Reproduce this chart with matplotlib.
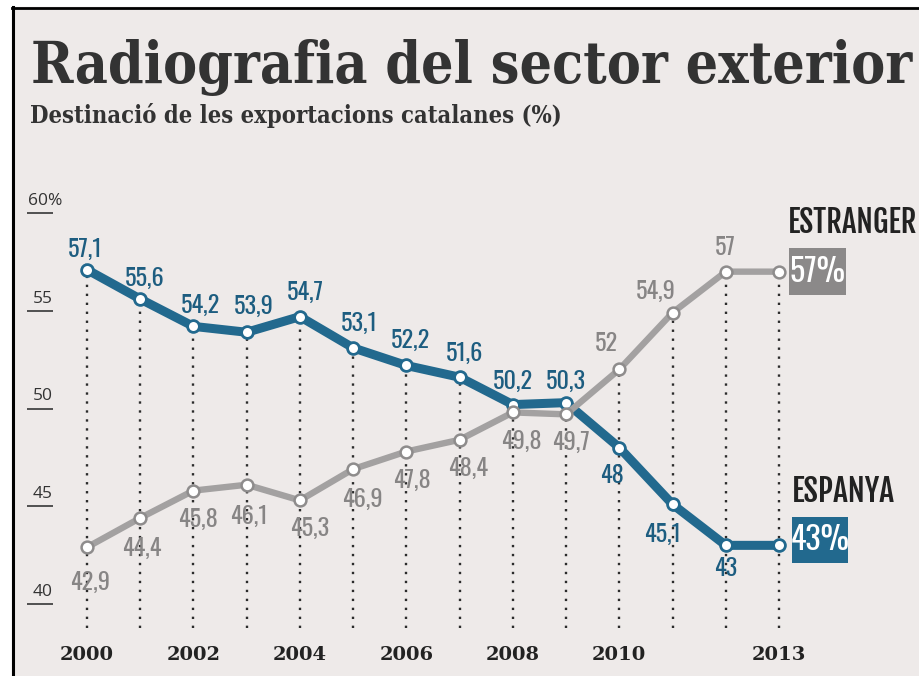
import matplotlib
matplotlib.use("Agg")
import matplotlib.pyplot as plt
from matplotlib.patches import Rectangle
from matplotlib.lines import Line2D
from matplotlib.transforms import ScaledTranslation

# --- data -----------------------------------------------------------------
years = [2000, 2001, 2002, 2003, 2004, 2005, 2006, 2007, 2008, 2009, 2010, 2011, 2012, 2013]
espanya = [57.1, 55.6, 54.2, 53.9, 54.7, 53.1, 52.2, 51.6, 50.2, 50.3, 48.0, 45.1, 43.0, 43.0]
estranger = [42.9, 44.4, 45.8, 46.1, 45.3, 46.9, 47.8, 48.4, 49.8, 49.7, 52.0, 54.9, 57.0, 57.0]
y_ticks = [40, 45, 50, 55, 60]
y_tick_labels = ["40", "45", "50", "55", "60%"]
x_tick_years = [2000, 2002, 2004, 2006, 2008, 2010, 2013]

TITLE = "Radiografia del sector exterior"
SUBTITLE = "Destinació de les exportacions catalanes (%)"

# --- style ------------------------------------------------------------------
W, H = 920, 676
BG = "#eeeae9"
BLUE = "#22698e"
BLUE_TXT = "#1d5d80"
GREY = "#a3a1a1"
GREY_TXT = "#878585"
INK = "#2b2b2b"
SERIF = ["DejaVu Serif"]
COND = ["Oswald", "DejaVu Sans"]
COND_BOLD = ["Fjalla One", "Oswald", "DejaVu Sans"]

# pixel anchors of the plotting scale
X0_PX, X_STEP = 87.0, 53.23      # year 2000 and px per year
Y60_PX, Y_UNIT = 213.0, 19.55    # value 60 (px from top) and px per unit

# label offsets in pixels (dx, dy up) relative to each point
esp_off = [(-2, 20), (5, 21), (7, 21), (7, 26), (5, 24), (6, 25), (4, 25), (5, 24),
           (0, 23), (0, 21), (-7, -28), (-10, -30), (0, -23), None]
est_off = [(3, -35), (2, -30), (5, -29), (2, -32), (10, -28), (9, -30), (6, -29), (8, -29),
           (9, -29), (5, -28), (-13, 26), (-17, 21), (0, 24), None]


def fx(px):
    return px / W


def fy(py):
    return 1 - py / H


def fmt(v):
    return f"{v:g}".replace(".", ",")


fig = plt.figure(figsize=(W / 100, H / 100), dpi=100, facecolor="white")
fig.add_artist(Rectangle((fx(12), 0), 1, fy(7), transform=fig.transFigure, color=BG, zorder=-5))
fig.add_artist(Line2D([fx(13.5), fx(13.5)], [0, fy(7)], transform=fig.transFigure, color="black", lw=2.2))
fig.add_artist(Line2D([fx(12.5), 1], [fy(8), fy(8)], transform=fig.transFigure, color="black", lw=2.0))

ax = fig.add_axes([0, 0, 1, 1])
ax.set_xlim(2000 - X0_PX / X_STEP, 2000 + (W - X0_PX) / X_STEP)
ax.set_ylim(60 - (H - Y60_PX) / Y_UNIT, 60 + Y60_PX / Y_UNIT)
ax.axis("off")
ax.patch.set_visible(False)

# dotted drop lines
bottom = 60 - (628 - Y60_PX) / Y_UNIT
tops = [max(a, b) for a, b in zip(espanya, estranger)]
ax.vlines(years, bottom, tops, colors=INK, linestyles=(0, (1, 2.8)), lw=1.7, zorder=1)

# series
ax.plot(years, espanya, color=BLUE, lw=6.5, solid_joinstyle="round", zorder=3,
        marker="o", ms=8.5, mfc="white", mec=BLUE, mew=2.0)
ax.plot(years, estranger, color=GREY, lw=4.6, solid_joinstyle="round", zorder=4,
        marker="o", ms=8.5, mfc="white", mec="#8e8c8c", mew=1.8)

for yr, v, off in zip(years, espanya, esp_off):
    if off:
        ax.annotate(fmt(v), (yr, v), xytext=off, textcoords="offset pixels", ha="center", va="center",
                    color=BLUE_TXT, fontsize=17.5, family=COND, zorder=6)
for yr, v, off in zip(years, estranger, est_off):
    if off:
        ax.annotate(fmt(v), (yr, v), xytext=off, textcoords="offset pixels", ha="center", va="center",
                    color=GREY_TXT, fontsize=17.5, family=COND, fontweight="light", zorder=6)


# end-of-line boxes (pixel sized) and names
def end_box(value, colour, x_px, dy_px, w_px, h_px):
    trans = fig.dpi_scale_trans + ScaledTranslation(years[-1], value, ax.transData)
    ax.add_artist(Rectangle((x_px / 100, (dy_px - h_px / 2) / 100), w_px / 100, h_px / 100, transform=trans,
                            fc=colour, ec="none", zorder=5))
    ax.annotate(f"{value:g}%", (years[-1], value), xytext=(x_px + w_px / 2, dy_px), textcoords="offset pixels",
                ha="center", va="center", color="white", fontsize=23, family=COND, zorder=6)


end_box(estranger[-1], "#8b8989", 10, 0, 57, 47)
end_box(espanya[-1], BLUE, 13, 5, 56, 46)

renderer = fig.canvas.get_renderer()
for name, value, dx, dy, x_end in [("ESTRANGER", estranger[-1], 9, 49, 917), ("ESPANYA", espanya[-1], 13, 53, 895)]:
    t = ax.annotate(name, (years[-1], value), xytext=(dx, dy), textcoords="offset pixels",
                    ha="left", va="center", color="#222222", fontsize=24, family=COND_BOLD)
    bb = t.get_window_extent(renderer)
    t.set_fontsize(24 * (x_end - bb.x0) / bb.width)

# y ticks: label sitting on a short underline
u0, u1 = 2000 - (X0_PX - 27) / X_STEP, 2000 - (X0_PX - 53) / X_STEP
ax.hlines(y_ticks, u0, u1, colors="#444444", lw=1.3)
for t, lab in zip(y_ticks, y_tick_labels):
    if lab.endswith("%"):
        ax.annotate(lab, (u0, t), xytext=(1, 12), textcoords="offset pixels", ha="left", va="center",
                    fontsize=12.5, color="#333333", family=["Open Sans", "DejaVu Sans"])
    else:
        ax.annotate(lab, (u1, t), xytext=(0, 12), textcoords="offset pixels", ha="right", va="center",
                    fontsize=12.5, color="#333333", family=["Open Sans", "DejaVu Sans"])

# x tick labels
ybot = 60 - (655 - Y60_PX) / Y_UNIT
for yr in x_tick_years:
    ax.text(yr, ybot, str(yr), ha="center", va="center", fontsize=14, fontweight="bold",
            family=["DejaVu Serif"], color="#222222")

# titles, scaled to the printed width
for txt, x0, x1, ybase, size in [(TITLE, 31, 914, 83, 50), (SUBTITLE, 30, 560, 123, 24)]:
    t = fig.text(fx(x0), fy(ybase), txt, ha="left", va="baseline", fontsize=size, fontweight="bold",
                 family=SERIF, fontstretch="condensed", color="#333333")
    wpx = t.get_window_extent(renderer).width
    t.set_fontsize(size * (x1 - x0) / wpx)

fig.savefig("out.png", dpi=100, facecolor=fig.get_facecolor())
